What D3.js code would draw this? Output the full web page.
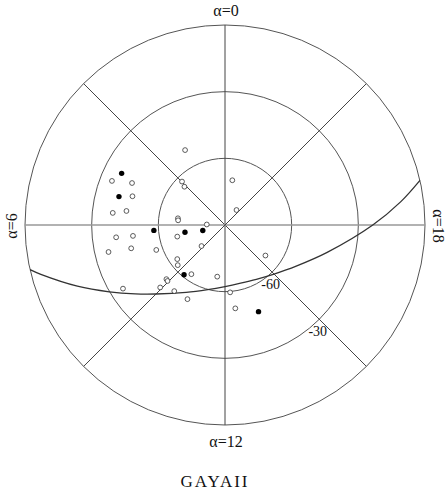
<!DOCTYPE html>
<html>
<head>
<meta charset="utf-8">
<script src="https://cdn.jsdelivr.net/npm/d3@7"></script>
<style>
  html, body { margin: 0; padding: 0; background: #fff; }
  svg { display: block; }
  text { font-family: "Liberation Serif", "Times New Roman", serif; fill: #111; }
</style>
</head>
<body>
<script>
// ---- data ----
// open circles: right ascension (hours), declination (degrees)
const openRA  = [1.87, 4.58, 4.38, 2.98, 3.11, 23.38, 4.85, 21.5, 5.59, 5.46, 5.46, 5.62, 5.89,
                 6.43, 6.45, 6.91, 8.79, 6.93, 7.33, 6.87, 15.53, 8.37, 8.69, 9.71, 11.43,
                 8.85, 8.95, 8.13, 8.93, 9.5, 12.29, 10.21, 12.47];
const openDec = [-51.8, -35.4, -44.1, -62.5, -64.9, -69.6, -46.4, -81.5, -39.2, -45.2, -68.6, -68.8, -81.8,
                 -40.7, -48.3, -67.9, -75.8, -46.5, -57.1, -36.2, -67.2, -63.6, -62.1, -63.2, -66.5,
                 -54.1, -53.9, -35.9, -49.5, -52.5, -59.6, -52.6, -52.2];
// filled circles
const filledRA  = [4.23, 5.0, 6.29, 6.68, 6.93, 9.37, 13.41];
const filledDec = [-38.0, -40.6, -57.9, -71.7, -79.7, -61.0, -48.2];
// galactic plane curve
const planeRA  = [6.86, 7, 7.5, 8, 8.5, 9, 10, 11, 12, 13, 14, 15, 16, 17, 18, 18.5, 18.86];
const planeDec = [0, -4.2, -18.1, -29.9, -39.1, -46.1, -55.0, -59.9, -62.3, -62.9, -61.8, -58.8, -53.0, -42.4, -23.5, -10.3, 0];
// grid
const decCircles = [-60, -30, 0];
const decLabels = ["-60", "-30"];
const raLines = [0, 3, 6, 9, 12, 15, 18, 21];
const raLabels = [
  {ra: 0, text: "α=0"},
  {ra: 6, text: "α=6"},
  {ra: 12, text: "α=12"},
  {ra: 18, text: "α=18"}
];
const title = "GAYAII";

// ---- layout ----
const W = 448, H = 491, cx = 225, cy = 225, R = 200;
const rScale = d3.scaleLinear().domain([-90, 0]).range([0, R]);
const aScale = d3.scaleLinear().domain([0, 24]).range([0, 2 * Math.PI]);
const px = (ra, dec) => cx - rScale(dec) * Math.sin(aScale(ra));
const py = (ra, dec) => cy - rScale(dec) * Math.cos(aScale(ra));

const svg = d3.select("body").append("svg").attr("width", W).attr("height", H);

// circles of declination
svg.selectAll("circle.grid").data(decCircles).join("circle")
  .attr("class", "grid")
  .attr("cx", cx).attr("cy", cy).attr("r", d => rScale(d))
  .attr("fill", "none").attr("stroke", "#555").attr("stroke-width", 1);

// radial lines
svg.selectAll("line.ra").data(raLines).join("line")
  .attr("class", "ra")
  .attr("x1", cx).attr("y1", cy)
  .attr("x2", d => px(d, 0)).attr("y2", d => py(d, 0))
  .attr("stroke", d => (d === 6 || d === 18) ? "#999" : "#444")
  .attr("stroke-width", d => (d === 6 || d === 18) ? 1.4 : 1);

// galactic plane
const planePts = planeRA.map((a, i) => [px(a, planeDec[i]), py(a, planeDec[i])]);
svg.append("path")
  .attr("d", d3.line().curve(d3.curveCatmullRom)(planePts))
  .attr("fill", "none").attr("stroke", "#333").attr("stroke-width", 1.3);

// open points
svg.selectAll("circle.open").data(openRA.map((a, i) => [a, openDec[i]])).join("circle")
  .attr("class", "open")
  .attr("cx", d => px(d[0], d[1])).attr("cy", d => py(d[0], d[1]))
  .attr("r", 2.4).attr("fill", "#fff").attr("stroke", "#333").attr("stroke-width", 0.8);

// filled points
svg.selectAll("circle.filled").data(filledRA.map((a, i) => [a, filledDec[i]])).join("circle")
  .attr("class", "filled")
  .attr("cx", d => px(d[0], d[1])).attr("cy", d => py(d[0], d[1]))
  .attr("r", 2.7).attr("fill", "#000");

// declination labels along the SE diagonal (alpha = 15)
svg.selectAll("text.dec").data(decLabels).join("text")
  .attr("class", "dec")
  .attr("x", d => px(15, +d) - 1.5)
  .attr("y", d => py(15, +d) + 17)
  .attr("text-anchor", "middle")
  .attr("font-size", 14)
  .text(d => d);

// alpha labels
const labPos = {
  0:  {x: 226, y: 16, rot: 0},
  12: {x: 226, y: 447, rot: 0},
  6:  {x: 17, y: 226, rot: -90},
  18: {x: 433, y: 226, rot: 90}
};
svg.selectAll("text.ra").data(raLabels).join("text")
  .attr("class", "ra")
  .attr("text-anchor", "middle")
  .attr("font-size", 16)
  .attr("transform", d => {
    const p = labPos[d.ra];
    return `translate(${p.x},${p.y}) rotate(${p.rot})`;
  })
  .text(d => d.text);

svg.append("text")
  .attr("x", 215).attr("y", 487)
  .attr("text-anchor", "middle")
  .attr("font-size", 17)
  .attr("letter-spacing", 2)
  .text(title);
</script>
</body>
</html>
